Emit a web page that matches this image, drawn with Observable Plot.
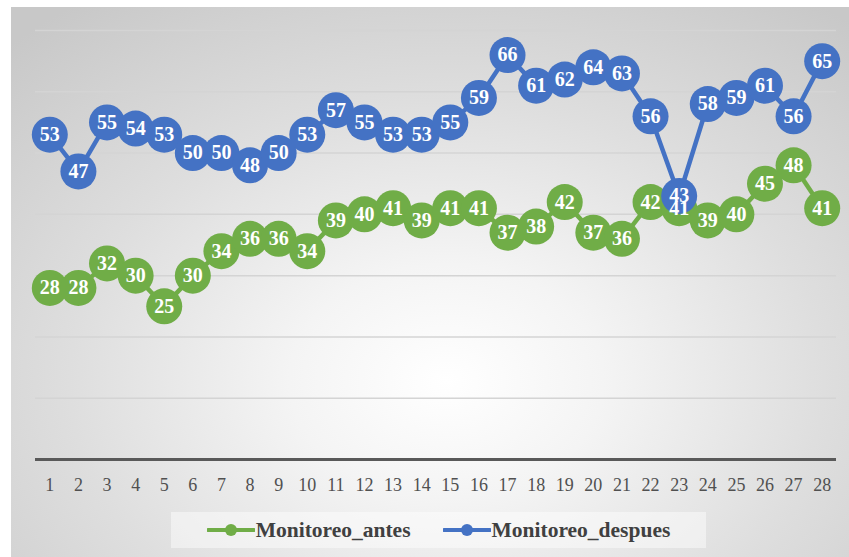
<!DOCTYPE html>
<html>
<head>
<meta charset="utf-8">
<script src="https://cdn.jsdelivr.net/npm/d3@7"></script>
<script src="https://cdn.jsdelivr.net/npm/@observablehq/plot@0.6"></script>
<style>
  html, body { margin: 0; padding: 0; background: #ffffff; }
  #frame {
    position: absolute; left: 11px; top: 7px; width: 838px; height: 550px;
    background: radial-gradient(ellipse 75% 85% at 52% 68%, #ffffff 0%, #f4f4f4 25%, #dedede 60%, #c8c8c8 100%);
    overflow: hidden;
  }
  #chart { position: absolute; left: 0; top: 0; }
  #chart svg, #chart svg text { font-family: "Liberation Serif", "Times New Roman", serif !important; }
  #legend {
    position: absolute; left: 160px; top: 505px; width: 535px; height: 36px;
    background: rgba(255,255,255,0.45);
    display: flex; align-items: center; justify-content: center; gap: 32px;
    font-family: "Liberation Serif", "Times New Roman", serif; font-weight: bold; font-size: 21.5px; color: #404040;
  }
  .item { display: flex; align-items: center; }
  .item svg { margin-right: 1px; }
</style>
</head>
<body>
<div id="frame">
  <div id="chart"></div>
  <div id="legend"></div>
</div>
<script>
const dias = [1,2,3,4,5,6,7,8,9,10,11,12,13,14,15,16,17,18,19,20,21,22,23,24,25,26,27,28];
const antes = [28,28,32,30,25,30,34,36,36,34,39,40,41,39,41,41,37,38,42,37,36,42,41,39,40,45,48,41];
const despues = [53,47,55,54,53,50,50,48,50,53,57,55,53,53,55,59,66,61,62,64,63,56,43,58,59,61,56,65];
const seriesNames = ["Monitoreo_antes", "Monitoreo_despues"];
const seriesColors = ["#70AD47", "#4472C4"];
const gridTicks = [10,20,30,40,50,60,70];

const rowsA = dias.map((d, i) => ({dia: d, valor: antes[i], serie: seriesNames[0]}));
const rowsD = dias.map((d, i) => ({dia: d, valor: despues[i], serie: seriesNames[1]}));

const font = "'Liberation Serif', 'Times New Roman', serif";

const chart = Plot.plot({
  width: 838,
  height: 495,
  marginLeft: 24,
  marginRight: 13,
  marginTop: 23,
  marginBottom: 43,
  style: {background: "transparent", fontFamily: font, overflow: "visible"},
  x: {type: "point", domain: dias, padding: 0.5, round: false},
  y: {domain: [0, 70]},
  marks: [
    Plot.gridY(gridTicks, {stroke: "#d4d4d4", strokeOpacity: 1, strokeWidth: 1.5}),
    Plot.ruleY([0], {stroke: "#595959", strokeWidth: 3}),
    Plot.axisX({tickSize: 0, tickPadding: 19, fontSize: 18, fill: "#505050", label: null, fontFamily: font}),
    Plot.axisY({ticks: [], label: null}),
    Plot.line(rowsA, {x: "dia", y: "valor", stroke: seriesColors[0], strokeWidth: 4.5, strokeLinejoin: "round"}),
    Plot.dot(rowsA, {x: "dia", y: "valor", r: 18, fill: seriesColors[0], stroke: "none"}),
    Plot.line(rowsD, {x: "dia", y: "valor", stroke: seriesColors[1], strokeWidth: 4.5, strokeLinejoin: "round"}),
    Plot.dot(rowsD, {x: "dia", y: "valor", r: 18, fill: seriesColors[1], stroke: "none"}),
    Plot.text(rowsA, {x: "dia", y: "valor", text: d => String(d.valor), fill: "white", fontSize: 20, fontWeight: "bold", fontFamily: font}),
    Plot.text(rowsD, {x: "dia", y: "valor", text: d => String(d.valor), fill: "white", fontSize: 20, fontWeight: "bold", fontFamily: font})
  ]
});
document.getElementById("chart").appendChild(chart);

const legend = document.getElementById("legend");
seriesNames.forEach((name, i) => {
  const item = document.createElement("div");
  item.className = "item";
  item.innerHTML = `<svg width="48" height="14"><line x1="1" y1="7" x2="47" y2="7" stroke="${seriesColors[i]}" stroke-width="4" stroke-linecap="round"/><circle cx="24" cy="7" r="6" fill="${seriesColors[i]}"/></svg><span>${name}</span>`;
  legend.appendChild(item);
});
</script>
</body>
</html>
